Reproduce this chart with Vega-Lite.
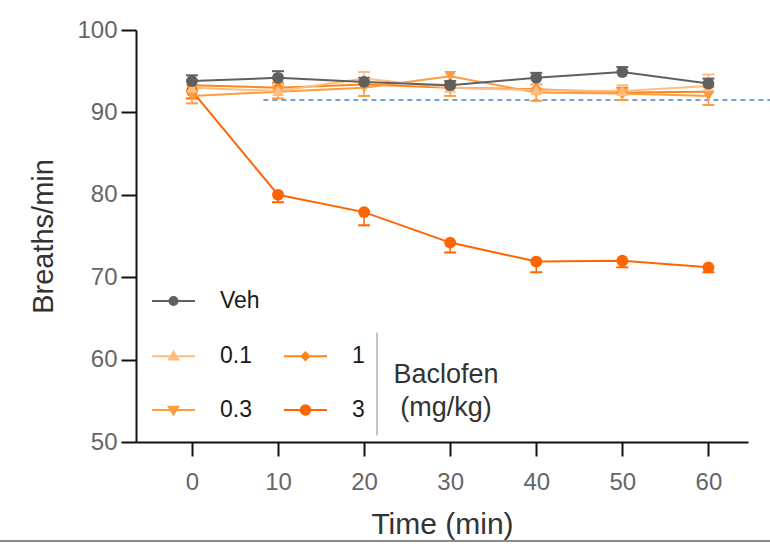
{
  "$schema": "https://vega.github.io/schema/vega-lite/v6.json",
  "width": 612,
  "height": 412,
  "autosize": {"type": "none"},
  "padding": {"left": 136, "top": 30, "right": 22, "bottom": 106},
  "background": "white",
  "config": {"view": {"stroke": null}, "font": "Liberation Sans"},
  "resolve": {"scale": {"shape": "independent", "fill": "independent", "stroke": "independent"}},
  "data": {
    "values": [
      {"g": "3", "t": 0, "v": 92.6, "e": 91.7},
      {"g": "3", "t": 10, "v": 80.0, "e": 79.1},
      {"g": "3", "t": 20, "v": 77.9, "e": 76.3},
      {"g": "3", "t": 30, "v": 74.2, "e": 73.0},
      {"g": "3", "t": 40, "v": 71.9, "e": 70.6},
      {"g": "3", "t": 50, "v": 72.0, "e": 71.2},
      {"g": "3", "t": 60, "v": 71.2, "e": 70.6},
      {"g": "1", "t": 0, "v": 93.3, "e": 93.9},
      {"g": "1", "t": 10, "v": 93.0, "e": 93.6},
      {"g": "1", "t": 20, "v": 93.4, "e": 94.0},
      {"g": "1", "t": 30, "v": 93.0, "e": 93.5},
      {"g": "1", "t": 40, "v": 92.8, "e": 93.4},
      {"g": "1", "t": 50, "v": 92.4, "e": 93.0},
      {"g": "1", "t": 60, "v": 92.5, "e": 93.1},
      {"g": "0.3", "t": 0, "v": 92.0, "e": 91.1},
      {"g": "0.3", "t": 10, "v": 92.5, "e": 91.7},
      {"g": "0.3", "t": 20, "v": 93.0, "e": 92.0},
      {"g": "0.3", "t": 30, "v": 94.4, "e": 92.0},
      {"g": "0.3", "t": 40, "v": 92.4, "e": 91.4},
      {"g": "0.3", "t": 50, "v": 92.3, "e": 91.5},
      {"g": "0.3", "t": 60, "v": 92.0, "e": 90.9},
      {"g": "0.1", "t": 0, "v": 93.0, "e": 93.8},
      {"g": "0.1", "t": 10, "v": 92.6, "e": 93.3},
      {"g": "0.1", "t": 20, "v": 94.1, "e": 94.9},
      {"g": "0.1", "t": 30, "v": 93.0, "e": 93.6},
      {"g": "0.1", "t": 40, "v": 92.7, "e": 93.4},
      {"g": "0.1", "t": 50, "v": 92.6, "e": 93.3},
      {"g": "0.1", "t": 60, "v": 93.2, "e": 94.6},
      {"g": "Veh", "t": 0, "v": 93.8, "e": 94.5},
      {"g": "Veh", "t": 10, "v": 94.2, "e": 95.0},
      {"g": "Veh", "t": 20, "v": 93.7, "e": 94.2},
      {"g": "Veh", "t": 30, "v": 93.3, "e": 93.8},
      {"g": "Veh", "t": 40, "v": 94.2, "e": 94.8},
      {"g": "Veh", "t": 50, "v": 94.9, "e": 95.5},
      {"g": "Veh", "t": 60, "v": 93.5, "e": 94.1}
    ]
  },
  "layer": [
    {
      "data": {"values": [{"t": 8.3, "t2": 67.2, "v": 91.5}]},
      "mark": {"type": "rule", "color": "#4f81bd", "strokeWidth": 1.5, "strokeDash": [5, 4]},
      "encoding": {
        "x": {"field": "t", "type": "quantitative", "scale": {"domain": [-6.5, 64.6], "nice": false, "zero": false}},
        "x2": {"field": "t2"},
        "y": {"field": "v", "type": "quantitative", "scale": {"domain": [50, 100], "nice": false, "zero": false}}
      }
    },
    {
      "data": {"values": [{"t": 21.5, "v": 50.8, "v2": 63.3}]},
      "mark": {"type": "rule", "color": "#b3b3b3", "strokeWidth": 1.5},
      "encoding": {
        "x": {"field": "t", "type": "quantitative"},
        "y": {"field": "v", "type": "quantitative"},
        "y2": {"field": "v2"}
      }
    },
    {
      "data": {"values": [{"t": -22.4, "t2": 67.3, "v": 38.0}]},
      "mark": {"type": "rule", "color": "#8a8a8a", "strokeWidth": 2},
      "encoding": {
        "x": {"field": "t", "type": "quantitative"},
        "x2": {"field": "t2"},
        "y": {"field": "v", "type": "quantitative"}
      }
    },
    {
      "mark": {"type": "rule", "strokeWidth": 1.5},
      "encoding": {
        "x": {"field": "t", "type": "quantitative"},
        "y": {"field": "v", "type": "quantitative"},
        "y2": {"field": "e"},
        "stroke": {"field": "g", "type": "nominal", "legend": null,
          "scale": {"domain": ["Veh", "0.1", "0.3", "1", "3"], "range": ["#606060", "#ffbd82", "#ff9c3d", "#ff8519", "#ff6400"]}}
      }
    },
    {
      "mark": {"type": "tick", "orient": "horizontal", "size": 12, "thickness": 2, "opacity": 1},
      "encoding": {
        "x": {"field": "t", "type": "quantitative"},
        "y": {"field": "e", "type": "quantitative"},
        "fill": {"field": "g", "type": "nominal", "legend": null,
          "scale": {"domain": ["Veh", "0.1", "0.3", "1", "3"], "range": ["#606060", "#ffbd82", "#ff9c3d", "#ff8519", "#ff6400"]}}
      }
    },
    {
      "mark": {"type": "line", "strokeWidth": 2},
      "encoding": {
        "x": {"field": "t", "type": "quantitative",
          "axis": {"title": "Time (min)", "values": [0, 10, 20, 30, 40, 50, 60], "grid": false,
            "domainColor": "#111", "domainWidth": 2, "tickColor": "#111", "tickWidth": 2, "tickSize": 14,
            "labelFontSize": 24, "labelColor": "#666", "labelPadding": 14, "labelFont": "Liberation Sans",
            "titleFontSize": 30, "titleFontWeight": "normal", "titleColor": "#333", "titlePadding": 15, "titleFont": "Liberation Sans"}},
        "y": {"field": "v", "type": "quantitative",
          "axis": {"title": "Breaths/min", "values": [50, 60, 70, 80, 90, 100], "grid": false,
            "domainColor": "#111", "domainWidth": 2, "tickColor": "#111", "tickWidth": 2, "tickSize": 15,
            "labelFontSize": 24, "labelColor": "#666", "labelPadding": 4, "labelFont": "Liberation Sans",
            "titleFontSize": 29, "titleFontWeight": "normal", "titleColor": "#333", "titlePadding": 18, "titleFont": "Liberation Sans"}},
        "stroke": {"field": "g", "type": "nominal", "legend": null,
          "scale": {"domain": ["Veh", "0.1", "0.3", "1", "3"], "range": ["#606060", "#ffbd82", "#ff9c3d", "#ff8519", "#ff6400"]}}
      }
    },
    {
      "mark": {"type": "point", "filled": true, "size": 140, "opacity": 1},
      "encoding": {
        "x": {"field": "t", "type": "quantitative"},
        "y": {"field": "v", "type": "quantitative"},
        "shape": {"field": "g", "type": "nominal", "legend": null,
          "scale": {"domain": ["Veh", "0.1", "0.3", "1", "3"], "range": ["circle", "triangle-up", "triangle-down", "diamond", "circle"]}},
        "fill": {"field": "g", "type": "nominal", "legend": null,
          "scale": {"domain": ["Veh", "0.1", "0.3", "1", "3"], "range": ["#606060", "#ffbd82", "#ff9c3d", "#ff8519", "#ff6400"]}}
      }
    },
    {
      "data": {"values": []},
      "mark": {"type": "point", "filled": true, "strokeWidth": 2, "opacity": 1},
      "encoding": {
        "x": {"field": "t", "type": "quantitative"},
        "y": {"field": "v", "type": "quantitative"},
        "shape": {"field": "g", "type": "nominal",
          "scale": {"domain": ["Veh"], "range": ["M-1,0H1M0.19,0A0.19,0.19 0 1,1 -0.19,0A0.19,0.19 0 1,1 0.19,0Z"]},
          "legend": {"values": ["Veh"], "orient": "none", "legendX": 15, "legendY": 248.5, "title": null,
            "symbolSize": 1849, "symbolStrokeWidth": 2, "labelFontSize": 23, "labelOffset": 24, "labelColor": "#1a1a1a", "labelFont": "Liberation Sans"}},
        "fill": {"field": "g", "type": "nominal",
          "scale": {"domain": ["Veh"], "range": ["#606060"]}},
        "stroke": {"field": "g", "type": "nominal",
          "scale": {"domain": ["Veh"], "range": ["#606060"]}}
      }
    },
    {
      "data": {"values": []},
      "mark": {"type": "point", "filled": true, "strokeWidth": 2, "opacity": 1},
      "encoding": {
        "x": {"field": "t", "type": "quantitative"},
        "y": {"field": "v", "type": "quantitative"},
        "shape": {"field": "g", "type": "nominal",
          "scale": {"domain": ["0.1", "0.3", "1", "3"], "range": [
            "M-1,0H1M0,-0.21L0.22,0.15L-0.22,0.15Z",
            "M-1,0H1M0,0.21L0.22,-0.15L-0.22,-0.15Z",
            "M-1,0H1M0,-0.18L0.18,0L0,0.18L-0.18,0Z",
            "M-1,0H1M0.22,0A0.22,0.22 0 1,1 -0.22,0A0.22,0.22 0 1,1 0.22,0Z"]},
          "legend": {"values": ["0.1", "0.3", "1", "3"], "columns": 2, "orient": "none", "legendX": 15, "legendY": 303.5,
            "title": ["Baclofen", "(mg/kg)"], "titleOrient": "right", "titleAnchor": "middle", "titleBaseline": "top", "titleAlign": "center",
            "titleFontSize": 27, "titleFontWeight": "normal", "titleColor": "#333", "titlePadding": 81, "titleLineHeight": 33, "titleFont": "Liberation Sans",
            "rowPadding": 19, "columnPadding": 28,
            "symbolSize": 1849, "symbolStrokeWidth": 2, "labelFontSize": 23, "labelOffset": 24, "labelColor": "#1a1a1a", "labelFont": "Liberation Sans"}},
        "fill": {"field": "g", "type": "nominal",
          "scale": {"domain": ["0.1", "0.3", "1", "3"], "range": ["#ffbd82", "#ff9c3d", "#ff8519", "#ff6400"]}},
        "stroke": {"field": "g", "type": "nominal",
          "scale": {"domain": ["0.1", "0.3", "1", "3"], "range": ["#ffbd82", "#ff9c3d", "#ff8519", "#ff6400"]}}
      }
    }
  ]
}
